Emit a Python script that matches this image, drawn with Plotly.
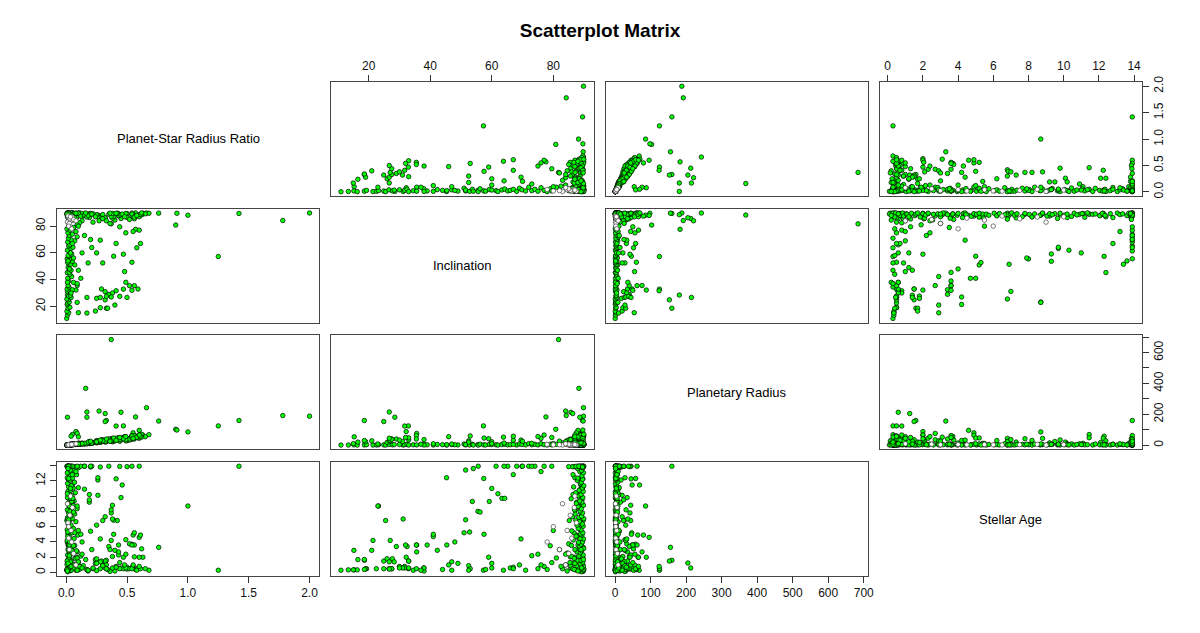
import plotly.graph_objects as go

# variable names shown on the diagonal
labels = ["Planet-Star Radius Ratio", "Inclination", "Planetary Radius", "Stellar Age"]

# --- outlying planets (large ratio or radius) ---
ratio_out = [2.00, 1.78, 1.42, 1.25, 1.00, 0.90, 0.91, 0.76, 0.37, 0.16,
             0.66, 0.57, 0.45, 0.32, 0.27, 0.17, 0.01, 0.33, 0.32, 0.47,
             0.41, 0.08, 0.09, 0.10, 0.17, 0.60, 0.55, 0.05, 0.04, 0.63]
incl_out = [89.8, 84.2, 89.5, 57.3, 88.2, 80.8, 89.6, 89.7, 81.7, 88.3,
            89.8, 77.6, 85.7, 86.3, 84.0, 26.7, 28.5, 18.6, 24.9, 32.9,
            31.7, 32.2, 35.6, 15.3, 88.6, 88.0, 87.5, 89.0, 88.5, 89.6]
radius_out = [188, 192, 160, 125, 86, 103, 98, 156, 684, 368,
              243, 183, 213, 205, 221, 215, 181, 160, 153, 125,
              124, 88, 76, 54, 181, 96, 80, 69, 58, 65]
age_out = [None, None, 13.9, 0.3, 8.7, None, None, 3.3, None, None,
           None, None, 0.6, 1.25, None, None, None, 1.6, 1.5, 0.5,
           0.8, 2.0, 2.7, 0.35, None, 4.6, 4.9, 11.45, 12.3, 2.0]

# --- high inclination fan, medium ratio ---
ratio_fan = [0.68, 0.65, 0.60, 0.57, 0.54, 0.55, 0.50, 0.54, 0.50, 0.44,
             0.35, 0.28, 0.40, 0.60, 0.56, 0.43, 0.38, 0.43, 0.62, 0.54,
             0.52, 0.43, 0.49, 0.61, 0.56, 0.20, 0.25, 0.42, 0.39, 0.30,
             0.38, 0.32, 0.37, 0.37, 0.38, 0.45, 0.19, 0.19, 0.26, 0.19,
             0.46, 0.26, 0.41, 0.26, 0.15, 0.10, 0.62, 0.58, 0.48, 0.36,
             0.30, 0.25, 0.33, 0.22]
incl_fan = [89.6, 89.2, 88.6, 89.9, 87.8, 88.9, 89.4, 89.8, 86.5, 88.2,
            89.0, 87.2, 84.5, 87.0, 85.5, 89.3, 86.0, 87.7, 88.4, 89.1,
            85.0, 88.0, 89.5, 88.8, 86.7, 89.0, 88.1, 89.7, 87.3, 88.7,
            89.2, 86.2, 88.9, 87.1, 89.4, 88.5, 87.6, 89.3, 88.0, 86.4,
            89.0, 88.3, 89.6, 87.0, 88.8, 89.5, 89.9, 88.0, 87.0, 89.7,
            85.6, 88.5, 84.0, 83.0]
radius_fan = [68, 55, 45, 60, 38, 50, 30, 62, 42, 25,
              38, 18, 30, 66, 40, 45, 22, 35, 52, 57,
              33, 48, 28, 64, 47, 12, 30, 44, 26, 24,
              36, 20, 42, 31, 44, 34, 15, 24, 20, 10,
              48, 17, 45, 28, 9, 12, 70, 54, 55, 27,
              35, 16, 23, 14]
age_fan = [0.3, 0.5, 13.9, 0.4, 0.6, 0.84, 0.7, 13.9, 13.85, 13.88,
           13.9, 13.8, 0.2, 2.0, 2.05, 2.3, 2.1, 2.7, 3.1, 3.7,
           3.75, 3.6, 4.3, 4.9, 5.2, 5.4, 6.2, 6.8, 6.85, 6.8,
           7.0, 7.3, 7.8, 8.2, 8.8, 9.8, 9.2, 9.5, 10.1, 10.2,
           11.45, 12.1, 12.25, 12.4, 10.9, 11.1, None, None, None, 0.15,
           0.9, 0.25, 1.0, 0.5]

# --- dense core: small planets, near edge-on orbits ---
ratio_core = [0.012, 0.035, 0.08, 0.021, 0.11, 0.05, 0.016, 0.09, 0.028, 0.14,
              0.007, 0.06, 0.024, 0.10, 0.04, 0.018, 0.075, 0.03, 0.12, 0.011,
              0.055, 0.026, 0.085, 0.015, 0.045, 0.02, 0.07, 0.033, 0.009, 0.13,
              0.038, 0.017, 0.065, 0.025, 0.095, 0.014, 0.048, 0.03, 0.008, 0.06,
              0.022, 0.04, 0.015, 0.08, 0.027, 0.05, 0.012, 0.035, 0.07, 0.019,
              0.045, 0.01, 0.09, 0.025, 0.055, 0.016, 0.038, 0.065, 0.021, 0.01,
              0.047, 0.028, 0.075, 0.013, 0.036, 0.058, 0.02, 0.042, 0.011, 0.068,
              0.03, 0.016, 0.052, 0.024, 0.085, 0.009, 0.04, 0.062, 0.018, 0.10,
              0.032, 0.014, 0.07, 0.045, 0.02, 0.12, 0.006, 0.08, 0.03, 0.15,
              0.20, 0.17, 0.22, 0.18, 0.24, 0.16, 0.13, 0.21, 0.11, 0.09]
incl_core = [89.1, 88.4, 89.7, 87.2, 89.9, 86.3, 89.5, 88.0, 89.8, 87.6,
             89.3, 88.9, 85.4, 89.6, 87.9, 89.0, 86.8, 89.4, 88.3, 89.7,
             84.6, 88.8, 89.2, 87.0, 89.9, 88.6, 85.9, 89.1, 88.2, 89.5,
             86.5, 89.8, 88.7, 87.4, 89.3, 88.9, 89.6, 86.0, 89.0, 88.1,
             89.7, 87.7, 89.4, 88.5, 85.2, 89.9, 88.3, 89.2, 87.1, 89.5,
             88.7, 86.9, 89.1, 88.0, 89.8, 87.5, 89.3, 88.6, 85.8, 89.6,
             88.2, 89.0, 87.3, 89.7, 88.4, 89.4, 86.6, 89.9, 88.8, 89.1,
             87.8, 89.5, 88.0, 89.3, 86.4, 89.8, 88.6, 89.2, 87.9, 89.6,
             88.9, 89.9, 86.2, 88.1, 89.4, 87.4, 89.0, 89.7, 85.0, 88.3,
             89.5, 86.8, 89.2, 88.0, 87.0, 89.8, 84.0, 89.0, 82.5, 81.0]
radius_core = [1.3, 3.8, 5.5, 2.4, 12.0, 3.6, 1.8, 10.1, 2.1, 9.2,
               0.9, 6.6, 1.7, 11.0, 3.2, 2.0, 5.0, 3.3, 8.5, 1.2,
               6.0, 1.9, 9.3, 1.7, 3.1, 2.2, 7.5, 2.6, 1.0, 14.0,
               4.1, 1.2, 5.1, 2.8, 6.4, 1.5, 5.3, 2.2, 0.9, 4.5,
               2.5, 3.4, 1.6, 8.8, 2.0, 3.5, 1.3, 3.9, 5.6, 2.1,
               4.9, 0.8, 6.8, 2.8, 4.1, 1.8, 4.2, 5.0, 2.3, 1.1,
               3.2, 3.1, 8.2, 1.0, 4.0, 4.4, 2.2, 3.6, 1.2, 7.4,
               2.3, 1.8, 5.7, 1.6, 6.2, 1.0, 4.4, 4.8, 2.0, 11.0,
               2.5, 1.5, 7.7, 3.0, 2.2, 9.0, 0.7, 8.9, 2.3, 8.0,
               14.0, 9.0, 16.0, 12.0, 18.0, 11.0, 7.0, 15.0, 6.0, 5.0]
age_core = [0.1, 0.25, 0.3, 0.35, 0.45, 0.5, 0.65, 0.7, 0.85, 0.9,
            1.05, 1.1, 1.3, 1.35, 1.55, 1.6, 1.85, 2.0, 2.15, 2.3,
            2.55, 2.6, 2.85, 3.0, 3.15, 3.4, 3.55, 3.7, 3.95, 4.0,
            4.25, 4.4, 4.45, 4.75, 4.9, 5.05, 5.2, 5.45, 5.6, 5.75,
            6.05, 6.2, 6.35, 6.65, 6.8, 7.05, 7.2, 7.35, 7.65, 7.8,
            8.05, 8.2, 8.35, 8.65, 8.8, 9.05, 9.2, 9.35, 9.65, 9.8,
            10.05, 10.2, 10.45, 10.6, 10.75, 11.05, 11.2, 11.35, 11.65, 11.8,
            12.05, 12.2, 12.35, 12.65, 12.8, 13.05, 13.2, 13.35, 13.6, 13.7,
            13.8, 13.9, 13.85, 13.9, 13.9, 13.9, 13.9, 13.8, 13.85, 13.9,
            13.8, 0.4, 0.6, 0.2, 1.2, 1.7, 2.4, 3.0, 0.8, 1.9]

# --- small planets over the whole inclination range ---
ratio_low = [0.004, 0.01, 0.02, 0.006, 0.015, 0.03, 0.008, 0.012, 0.025, 0.018,
             0.005, 0.04, 0.02, 0.035, 0.01, 0.03, 0.05, 0.007, 0.022, 0.015,
             0.06, 0.02, 0.012, 0.045, 0.03, 0.009, 0.025, 0.04, 0.016, 0.07,
             0.02, 0.035, 0.012, 0.05, 0.03, 0.008, 0.06, 0.02, 0.015, 0.045,
             0.025, 0.01, 0.038, 0.055, 0.02, 0.03, 0.012, 0.07, 0.04, 0.018,
             0.09, 0.025, 0.05, 0.014, 0.08, 0.03, 0.006, 0.06, 0.02, 0.10,
             0.035, 0.05, 0.015, 0.028, 0.01, 0.04]
incl_low = [11.0, 13.4, 15.2, 16.3, 18.6, 19.3, 21.4, 22.5, 23.2, 24.9,
            25.5, 26.6, 27.7, 28.3, 31.2, 31.7, 32.5, 33.0, 34.5, 35.6,
            37.9, 39.0, 41.0, 42.3, 44.0, 45.3, 45.4, 47.0, 49.0, 51.0,
            51.5, 51.5, 52.8, 53.7, 55.5, 55.6, 56.2, 57.4, 58.0, 59.2,
            61.4, 62.0, 63.3, 64.2, 65.2, 66.0, 68.1, 69.0, 69.8, 71.0,
            72.0, 73.0, 74.0, 75.0, 76.0, 77.0, 78.0, 79.0, 79.5, 80.0,
            60.0, 67.0, 54.0, 48.0, 38.0, 30.0]
radius_low = [0.5, 1.1, 2.0, 0.7, 1.6, 3.2, 0.9, 1.3, 2.7, 2.0,
              0.6, 4.3, 2.2, 3.8, 1.1, 3.3, 5.4, 0.8, 2.4, 1.7,
              6.5, 2.2, 1.3, 4.9, 3.3, 1.0, 2.7, 4.4, 1.8, 7.5,
              2.2, 3.8, 1.3, 5.5, 3.3, 0.9, 6.6, 2.2, 1.6, 4.9,
              2.8, 1.1, 4.1, 6.0, 2.2, 3.3, 1.3, 7.7, 4.4, 2.0,
              9.8, 2.7, 5.5, 1.5, 8.7, 3.3, 0.7, 6.5, 2.2, 11.0,
              3.9, 5.4, 1.6, 3.0, 1.1, 4.4]
age_low = [0.3, 0.35, 2.9, 0.35, 1.7, 0.5, 4.2, 0.5, 8.7, 0.5,
           6.8, 0.5, 1.8, 1.4, 7.0, 0.6, 3.4, 1.5, 0.3, 3.6,
           0.6, 3.6, 4.7, 2.9, 0.4, 12.4, 3.6, 0.3, 1.2, 5.2,
           6.9, 13.4, 5.3, 9.3, 8.0, 13.9, 7.9, 12.3, 0.4, 9.3,
           13.9, 10.3, 9.7, 9.7, 13.9, 0.6, 13.9, 1.0, 13.9, 0.3,
           13.9, 2.2, 13.9, 0.5, 13.2, 13.9, 0.4, 3.5, 13.9, 5.5,
           11.0, 12.8, 13.6, 4.0, 0.2, 0.8]

# --- medium planets at lower inclinations ---
ratio_mid = [0.17, 0.24, 0.28, 0.34, 0.40, 0.29, 0.32, 0.35, 0.38, 0.25,
             0.28, 0.33, 0.37, 0.44, 0.50, 0.59, 0.56, 0.52, 0.54, 0.49,
             0.48, 0.09, 0.09, 0.25, 0.30, 0.39, 0.41, 0.47, 0.54, 0.58,
             0.61, 0.60, 0.55, 0.49, 0.36, 0.44, 0.28, 0.21, 0.18, 0.12,
             0.15, 0.20, 0.13, 0.10]
incl_mid = [15.0, 16.5, 19.0, 18.6, 21.0, 33.0, 31.0, 29.0, 30.0, 26.0,
            26.7, 27.5, 27.0, 27.5, 26.7, 33.0, 35.5, 35.5, 32.0, 38.0,
            46.0, 37.0, 23.0, 60.0, 52.5, 57.5, 67.0, 59.0, 53.0, 63.8,
            67.0, 77.0, 76.0, 75.0, 82.0, 79.5, 69.5, 64.0, 52.5, 41.0,
            73.0, 70.0, 60.0, 47.0]
radius_mid = [10, 20, 22, 30, 28, 35, 24, 40, 33, 18,
              26, 40, 30, 38, 45, 48, 62, 40, 50, 36,
              55, 6, 8, 22, 28, 46, 32, 42, 60, 52,
              58, 66, 44, 56, 26, 50, 33, 14, 20, 9,
              12, 25, 10, 7]
age_mid = [0.35, 1.7, 0.5, 0.4, 2.9, 1.5, 0.6, 3.4, 0.6, 1.8,
           1.4, 0.5, 4.2, 0.5, 0.45, 0.6, 3.6, 0.5, 3.6, 0.6,
           1.0, 0.3, 8.7, 1.2, 0.9, 5.0, 0.7, 2.0, 0.5, 0.3,
           0.5, 0.8, 1.0, 2.4, 3.0, 1.3, 4.4, 13.9, 0.3, 5.0,
           13.9, 13.9, 0.6, 1.4]

# --- points drawn with a white fill ---
ratio_w = [0.02, 0.04, 0.015, 0.03, 0.05, 0.01, 0.06, 0.025, 0.035, 0.08, 0.02, 0.045]
incl_w = [86.0, 84.5, 87.5, 85.5, 86.8, 83.0, 85.0, 82.0, 87.0, 84.0, 80.0, 78.0]
radius_w = [2.2, 4.4, 1.6, 3.3, 5.5, 1.1, 6.5, 2.7, 3.8, 8.8, 2.2, 4.9]
age_w = [4.5, 5.5, 6.5, 7.5, 8.5, 9.0, 2.5, 3.0, 10.0, 1.0, 6.0, 4.0]

ratio = ratio_out + ratio_fan + ratio_core + ratio_low + ratio_mid
incl = incl_out + incl_fan + incl_core + incl_low + incl_mid
radius = radius_out + radius_fan + radius_core + radius_low + radius_mid
age = age_out + age_fan + age_core + age_low + age_mid

cols = [ratio, incl, radius, age]
cols_w = [ratio_w, incl_w, radius_w, age_w]

# tick marks per variable (x side / y side)
ratio_ticks = [0, 0.5, 1, 1.5, 2]
ratio_text = ["0.0", "0.5", "1.0", "1.5", "2.0"]
incl_ticks = [20, 40, 60, 80]
incl_text = ["20", "40", "60", "80"]
radius_ticks = [0, 100, 200, 300, 400, 500, 600, 700]
radius_text_x = ["0", "100", "200", "300", "400", "500", "600", "700"]
radius_text_y = ["0", "", "200", "", "400", "", "600", ""]
age_ticks = [0, 2, 4, 6, 8, 10, 12, 14]
age_text_x = ["0", "2", "4", "6", "8", "10", "12", "14"]
age_text_y = ["0", "2", "4", "6", "8", "", "12", ""]

xticks = [(ratio_ticks, ratio_text), (incl_ticks, incl_text),
          (radius_ticks, radius_text_x), (age_ticks, age_text_x)]
yticks = [(ratio_ticks, ratio_text), (incl_ticks, incl_text),
          (radius_ticks, radius_text_y), (age_ticks, age_text_y)]


def pad_range(vals):
    v = [x for x in vals if x is not None]
    lo, hi = min(v), max(v)
    d = (hi - lo) * 0.04
    return [lo - d, hi + d]


ranges = [pad_range(c) for c in cols]

W, H = 1200, 633
ml, mr, mt, mb = 57, 58, 82, 57
pw_tot = W - ml - mr
ph_tot = H - mt - mb
gx, gy = 12, 12.7
pw = (pw_tot - 3 * gx) / 4
ph = (ph_tot - 3 * gy) / 4

FONT = "Liberation Sans, Arial, Helvetica, sans-serif"

fig = go.Figure()
layout = {}
annotations = []

for i in range(4):
    for j in range(4):
        k = i * 4 + j + 1
        sx = "" if k == 1 else str(k)
        x0 = j * (pw + gx) / pw_tot
        x1 = x0 + pw / pw_tot
        y1 = 1 - i * (ph + gy) / ph_tot
        y0 = y1 - ph / ph_tot

        xa = dict(domain=[x0, x1], range=ranges[j], anchor="y" + sx,
                  showline=True, mirror=True, linecolor="#444", linewidth=1,
                  showgrid=False, zeroline=False, ticks="", showticklabels=False,
                  fixedrange=True)
        ya = dict(domain=[y0, y1], range=ranges[i], anchor="x" + sx,
                  showline=True, mirror=True, linecolor="#444", linewidth=1,
                  showgrid=False, zeroline=False, ticks="", showticklabels=False,
                  fixedrange=True)

        tick_style = dict(ticks="outside", ticklen=6, tickcolor="#333", tickwidth=1,
                          showticklabels=True,
                          tickfont=dict(family=FONT, size=12, color="#111"))
        if i == 0 and j % 2 == 1:
            xa.update(tick_style, side="top", tickvals=xticks[j][0], ticktext=xticks[j][1])
        if i == 3 and j % 2 == 0:
            xa.update(tick_style, side="bottom", tickvals=xticks[j][0], ticktext=xticks[j][1])
        if j == 0 and i % 2 == 1:
            ya.update(tick_style, side="left", tickangle=-90,
                      tickvals=yticks[i][0], ticktext=yticks[i][1])
        if j == 3 and i % 2 == 0:
            ya.update(tick_style, side="right", tickangle=-90,
                      tickvals=yticks[i][0], ticktext=yticks[i][1])

        layout["xaxis" + sx] = xa
        layout["yaxis" + sx] = ya

        if i == j:
            annotations.append(dict(
                x=(x0 + x1) / 2, y=(y0 + y1) / 2, xref="paper", yref="paper",
                xanchor="center", yanchor="middle",
                text=labels[i], showarrow=False,
                font=dict(family=FONT, size=13, color="black")))
            continue

        fig.add_trace(go.Scatter(
            x=cols[j], y=cols[i], mode="markers",
            xaxis="x" + sx, yaxis="y" + sx,
            marker=dict(size=4.5, color="#00ff00", line=dict(color="black", width=0.7)),
            showlegend=False, hoverinfo="skip"))
        fig.add_trace(go.Scatter(
            x=cols_w[j], y=cols_w[i], mode="markers",
            xaxis="x" + sx, yaxis="y" + sx,
            marker=dict(size=4.5, color="white", line=dict(color="#444", width=0.7)),
            showlegend=False, hoverinfo="skip"))

fig.update_layout(
    width=W, height=H,
    margin=dict(l=ml, r=mr, t=mt, b=mb, autoexpand=False),
    paper_bgcolor="white", plot_bgcolor="white",
    title=dict(text="<b>Scatterplot Matrix</b>", x=0.5, xanchor="center",
               y=1 - 30 / H, yanchor="middle",
               font=dict(family=FONT, size=19, color="black")),
    annotations=annotations,
    **layout)

# drop the default page margin so the figure sits at the window corner
fig.write_html("out.html", config={"displayModeBar": False},
               post_script="document.body.style.margin='0px';")
